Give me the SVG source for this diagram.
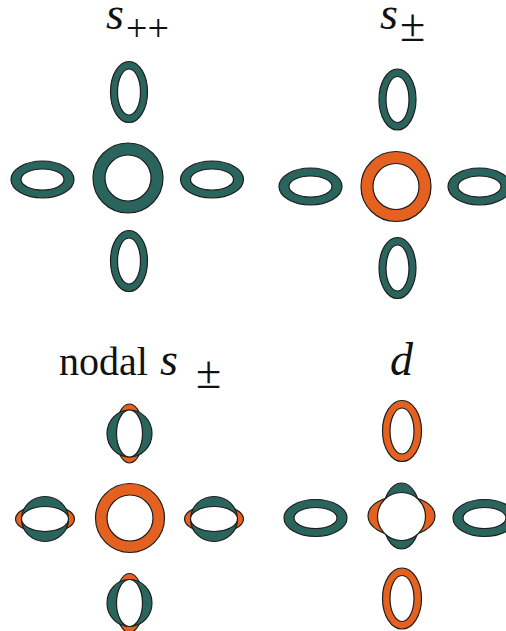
<svg xmlns="http://www.w3.org/2000/svg" width="506" height="631" viewBox="0 0 506 631">
<style>
.g{fill:#29645d;stroke:#1e1e1e;stroke-width:1.2}
.o{fill:#e5611f;stroke:#1e1e1e;stroke-width:1.2}
.w{fill:#ffffff;stroke:#1e1e1e;stroke-width:1.2}
.mi{font-family:"Liberation Serif","Times New Roman",serif;font-style:italic;fill:#111}
.rm{font-family:"Liberation Serif","Times New Roman",serif;fill:#111}
</style>
<rect width="506" height="631" fill="#ffffff"/>

<!-- Titles -->
<g id="title-spp">
<text class="mi" x="106" y="29" font-size="46">s</text>
<text class="rm" x="126" y="41" font-size="38">++</text>
</g>
<g id="title-spm">
<text class="mi" x="380" y="29" font-size="46">s</text>
<text class="rm" x="400" y="41" font-size="46">±</text>
</g>
<g id="title-nodal">
<text class="rm" x="59" y="375" font-size="40">nodal</text>
<text class="mi" x="160" y="375" font-size="46">s</text>
<text class="rm" x="196" y="388" font-size="46">±</text>
</g>
<g id="title-d">
<text class="mi" x="390" y="375" font-size="46">d</text>
</g>

<!-- Panel s++ -->
<g id="spp-center"><circle class="g" cx="128" cy="178" r="35"/><circle class="w" cx="128" cy="178" r="23"/></g>
<g id="spp-top"><ellipse class="g" cx="129" cy="92" rx="18.5" ry="30.5"/><ellipse class="w" cx="129" cy="92" rx="11.5" ry="23"/></g>
<g id="spp-bottom"><ellipse class="g" cx="129" cy="261" rx="18.5" ry="30.5"/><ellipse class="w" cx="129" cy="261" rx="11.5" ry="23"/></g>
<g id="spp-left"><ellipse class="g" cx="42.5" cy="179.5" rx="31.5" ry="18.5"/><ellipse class="w" cx="42.5" cy="179.5" rx="21.5" ry="10.5"/></g>
<g id="spp-right"><ellipse class="g" cx="212" cy="179.5" rx="31.5" ry="18.5"/><ellipse class="w" cx="212" cy="179.5" rx="21.5" ry="10.5"/></g>

<!-- Panel s± -->
<g id="spm-center"><circle class="o" cx="396" cy="186.5" r="35"/><circle class="w" cx="396" cy="186.5" r="23"/></g>
<g id="spm-top"><ellipse class="g" cx="397.5" cy="99.5" rx="18.5" ry="30.5"/><ellipse class="w" cx="397.5" cy="99.5" rx="11.5" ry="23"/></g>
<g id="spm-bottom"><ellipse class="g" cx="397.5" cy="268" rx="18.5" ry="30.5"/><ellipse class="w" cx="397.5" cy="268" rx="11.5" ry="23"/></g>
<g id="spm-left"><ellipse class="g" cx="310.5" cy="186.5" rx="31.5" ry="18.5"/><ellipse class="w" cx="310.5" cy="186.5" rx="21.5" ry="10.5"/></g>
<g id="spm-right"><ellipse class="g" cx="479.5" cy="186.5" rx="31.5" ry="18.5"/><ellipse class="w" cx="479.5" cy="186.5" rx="21.5" ry="10.5"/></g>

<!-- Panel nodal s± -->
<g id="nodal-center"><circle class="o" cx="130" cy="518" r="34.5"/><circle class="w" cx="130" cy="518" r="23"/></g>
<g id="nodal-top"><ellipse class="o" cx="129.5" cy="433.5" rx="14" ry="29.5"/><ellipse class="g" cx="129.5" cy="433.5" rx="22.5" ry="23.5"/><ellipse class="w" cx="129.5" cy="433.5" rx="13" ry="23.5"/></g>
<g id="nodal-bottom"><ellipse class="o" cx="129.5" cy="603" rx="14" ry="29.5"/><ellipse class="g" cx="129.5" cy="603" rx="22.5" ry="23.5"/><ellipse class="w" cx="129.5" cy="603" rx="13" ry="23.5"/></g>
<g id="nodal-left"><ellipse class="o" cx="45" cy="519" rx="29.5" ry="14"/><ellipse class="g" cx="45" cy="519" rx="23.5" ry="22.5"/><ellipse class="w" cx="45" cy="519" rx="23.5" ry="12.5"/></g>
<g id="nodal-right"><ellipse class="o" cx="214" cy="519" rx="29.5" ry="14"/><ellipse class="g" cx="214" cy="519" rx="23.5" ry="22.5"/><ellipse class="w" cx="214" cy="519" rx="23.5" ry="12.5"/></g>

<!-- Panel d -->
<g id="d-center"><ellipse class="g" cx="401.5" cy="516" rx="19" ry="33"/><ellipse class="o" cx="401.5" cy="516" rx="33.5" ry="20"/><circle class="w" cx="401.5" cy="516.5" r="24"/></g>
<g id="d-top"><ellipse class="o" cx="402" cy="431" rx="19.5" ry="30.5"/><ellipse class="w" cx="402" cy="431" rx="12" ry="23"/></g>
<g id="d-bottom"><ellipse class="o" cx="402" cy="598.5" rx="19.5" ry="30.5"/><ellipse class="w" cx="402" cy="598.5" rx="12" ry="23"/></g>
<g id="d-left"><ellipse class="g" cx="315.5" cy="518" rx="31.5" ry="18.5"/><ellipse class="w" cx="315.5" cy="518" rx="21.5" ry="10.5"/></g>
<g id="d-right"><ellipse class="g" cx="484.5" cy="518" rx="31.5" ry="18.5"/><ellipse class="w" cx="484.5" cy="518" rx="21.5" ry="10.5"/></g>

<g id="connectors"/>
</svg>
